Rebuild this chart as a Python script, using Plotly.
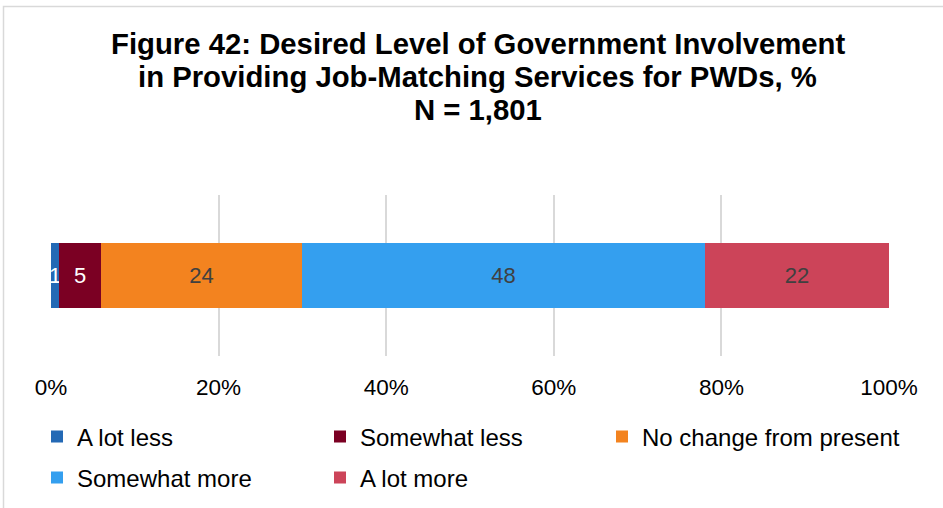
import plotly.graph_objects as go

# Survey responses (percent of respondents)
categories = ["Job-matching services"]
series_names = ["A lot less", "Somewhat less", "No change from present", "Somewhat more", "A lot more"]
series_values = [1, 5, 24, 48, 22]
series_colors = ["#2369B5", "#7B0023", "#F3831F", "#349FEF", "#CC4459"]
label_colors = ["#FFFFFF", "#FFFFFF", "#404040", "#404040", "#404040"]
legend_groups = ["legend", "legend", "legend3", "legend2", "legend2"]
tick_values = [0, 20, 40, 60, 80, 100]
tick_labels = ["0%", "20%", "40%", "60%", "80%", "100%"]
title_lines = [
    "Figure 42: Desired Level of Government Involvement",
    "in Providing Job-Matching Services for PWDs, %",
    "N = 1,801",
]

FONT = "Liberation Sans, Arial, sans-serif"
W, H = 943, 508
M_L, M_R, M_T, M_B = 51, 54, 195, 152
PLOT_W = W - M_L - M_R
PLOT_H = H - M_T - M_B


def px_x(px):
    return (px - M_L) / PLOT_W


def px_y(py):
    return (H - M_B - py) / PLOT_H


fig = go.Figure()
for name, val, col, lcol, lg in zip(series_names, series_values, series_colors, label_colors, legend_groups):
    fig.add_trace(go.Bar(
        y=categories,
        x=[val],
        name=name,
        orientation="h",
        marker=dict(color=col, line=dict(width=0)),
        text=[str(val)],
        textposition="inside",
        insidetextanchor="middle",
        constraintext="none",
        textfont=dict(family=FONT, size=22, color=lcol),
        width=0.4,
        legend=lg,
        hoverinfo="skip",
    ))

legend_common = dict(
    orientation="h",
    xanchor="left",
    yanchor="middle",
    font=dict(family=FONT, size=24, color="#000000"),
    bgcolor="rgba(0,0,0,0)",
    itemclick=False,
    itemdoubleclick=False,
    traceorder="normal",
)
fixed_cols = dict(entrywidthmode="pixels", entrywidth=238)

fig.update_layout(
    width=W,
    height=H,
    margin=dict(l=M_L, r=M_R, t=M_T, b=M_B, autoexpand=False),
    paper_bgcolor="#FFFFFF",
    plot_bgcolor="#FFFFFF",
    barmode="stack",
    bargap=0.0,
    showlegend=True,
    legend=dict(x=px_x(37), y=px_y(437), **legend_common, **fixed_cols),
    legend2=dict(x=px_x(37), y=px_y(478), **legend_common, **fixed_cols),
    legend3=dict(x=px_x(602), y=px_y(437), **legend_common),
    xaxis=dict(
        range=[0, 100],
        tickvals=tick_values,
        ticktext=tick_labels,
        showgrid=True,
        gridcolor="#D9D9D9",
        gridwidth=1.5,
        zeroline=False,
        showline=False,
        ticks="outside",
        ticklen=11,
        tickcolor="rgba(0,0,0,0)",
        tickfont=dict(family=FONT, size=22.5, color="#000000"),
        fixedrange=True,
    ),
    yaxis=dict(
        range=[-0.5, 0.5],
        showticklabels=False,
        showgrid=False,
        zeroline=False,
        showline=False,
        fixedrange=True,
    ),
)

# Title, one annotation per line for tight line spacing
for line, py in zip(title_lines, [44, 77, 109.5]):
    fig.add_annotation(
        text=line,
        xref="paper", yref="paper",
        x=px_x(477.5), y=px_y(py),
        xanchor="center", yanchor="middle",
        showarrow=False,
        font=dict(family=FONT, size=29.3, color="#000000", weight="bold"),
    )

# Chart frame
fig.add_shape(
    type="rect",
    xref="paper", yref="paper",
    x0=px_x(3.5), x1=px_x(960), y0=px_y(530), y1=px_y(6.5),
    line=dict(color="#D9D9D9", width=1.5),
    fillcolor="rgba(0,0,0,0)",
    layer="below",
)

fig.write_html("out.html", config={"displayModeBar": False})
